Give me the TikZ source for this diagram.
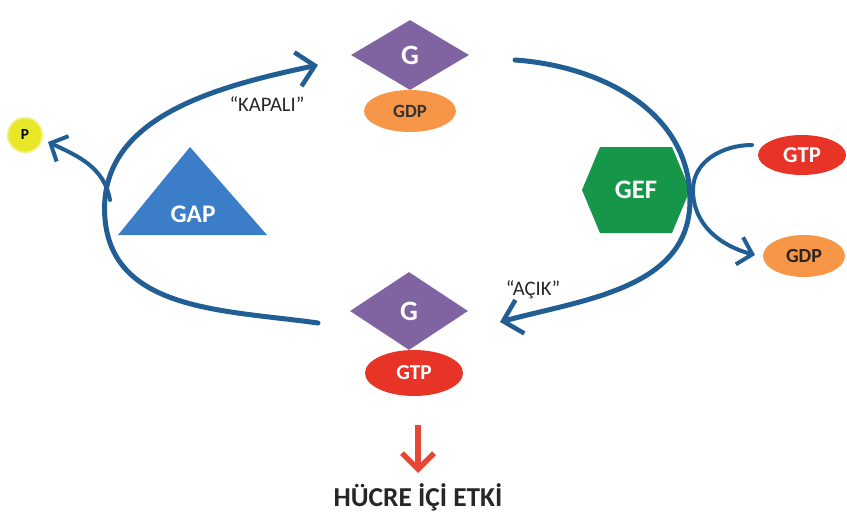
\documentclass[tikz,border=0pt]{standalone}
\usepackage{fontspec}
\setmainfont{Carlito}
\usetikzlibrary{shapes.geometric,arrows.meta}
\definecolor{gpurple}{RGB}{128,100,162}
\definecolor{gorange}{RGB}{247,150,70}
\definecolor{gred}{RGB}{232,52,38}
\definecolor{ggreen}{RGB}{22,150,72}
\definecolor{gblue}{RGB}{59,125,198}
\definecolor{lblue}{RGB}{33,94,148}
\definecolor{pyellow}{RGB}{232,232,40}
\definecolor{ared}{RGB}{228,72,52}
\tikzset{
  gdiam/.style={diamond, fill=gpurple, inner sep=0pt, minimum width=88.5pt, text=white, font=\bfseries\fontsize{21}{21}\selectfont},
  gell/.style={ellipse, inner sep=0pt, font=\bfseries},
  cyc/.style={draw=lblue, line width=3.75pt, line cap=round, -{Straight Barb[length=13pt,width=26pt,line width=3.4pt]}},
  thin/.style={draw=lblue, line width=3pt, line cap=round, -{Straight Barb[length=10pt,width=21pt,line width=3pt]}},
  lbl/.style={font=\fontsize{15.5}{15.5}\selectfont, text=black!85}
}
\begin{document}
\begin{tikzpicture}[x=0.75pt,y=0.75pt]
\useasboundingbox (0,0) rectangle (847,519);
% GAP triangle
\fill[gblue] (190,372) -- (267,284) -- (118,284) -- cycle;
\node[text=white, font=\bfseries\fontsize{19}{19}\selectfont] (gap) at (193,305) {GAP};
% GEF hexagon
\fill[ggreen] (582,329) -- (600,372) -- (672,372) -- (690,329) -- (672,286) -- (600,286) -- cycle;
\node[text=white, font=\bfseries\fontsize{20}{20}\selectfont] (gef) at (636,329) {GEF};
% G-GDP top
\node[gdiam, minimum height=52.5pt] (gtop) at (410,464) {G};
\node[gell, fill=gorange, minimum width=69pt, minimum height=31.5pt, text=black!80, font=\bfseries\fontsize{14}{14}\selectfont] (gdptop) at (410,408) {GDP};
% G-GTP bottom
\node[gdiam, minimum height=58.5pt] (gbot) at (409,208) {G};
\node[gell, fill=gred, minimum width=73.5pt, minimum height=34.5pt, text=white, font=\bfseries\fontsize{16}{16}\selectfont] (gtpbot) at (414,146) {GTP};
% right side
\node[gell, fill=gred, minimum width=66pt, minimum height=30pt, text=white, font=\bfseries\fontsize{17}{17}\selectfont] (gtpr) at (802,364) {GTP};
\node[gell, fill=gorange, minimum width=61.5pt, minimum height=31.5pt, text=black!85, font=\bfseries\fontsize{15}{15}\selectfont] (gdpr) at (804,263) {GDP};
% P
\node[circle, fill=pyellow, draw=pyellow!55, line width=1.2pt, minimum size=26pt, inner sep=0pt, font=\bfseries\fontsize{11.5}{11.5}\selectfont] (p) at (25,384) {P};
% labels
\node[lbl] (kapali) at (267,415) {“KAPALI”};
\node[lbl] (acik) at (533,229) {“AÇIK”};
\node[font=\bfseries\fontsize{20.5}{20.5}\selectfont, text=black!85] (etki) at (418,22) {HÜCRE İÇİ ETKİ};
% coordinates
\coordinate (s1) at (318,196);
\coordinate (l1) at (105,300);
\coordinate (e1) at (318,454);
\coordinate (s2) at (515,459);
\coordinate (r2) at (690,319);
\coordinate (e2) at (500,197);
\coordinate (pb) at (110,319);
\coordinate (pe) at (48,377);
\coordinate (fs) at (752,374);
\coordinate (fm) at (693,329);
\coordinate (fe) at (755,264);
\coordinate (as) at (418,94);
\coordinate (ae) at (418,46);
% cycle arcs
\draw[cyc] (s1) to[out=172,in=-85] (l1) to[out=95,in=192] (e1);
\draw[cyc] (s2) to[out=-4,in=90] (r2) to[out=-90,in=15] (e2);
% P branch
\draw[thin] (pb) to[out=100,in=-25] (pe);
% GEF branch
\draw[thin] (fs) to[out=180,in=90] (fm) to[out=-90,in=165] (fe);
% red arrow
\draw[draw=ared, line width=4.5pt, -{Straight Barb[length=12pt,width=24pt,line width=4pt]}] (as) -- (ae);
\end{tikzpicture}
\end{document}
